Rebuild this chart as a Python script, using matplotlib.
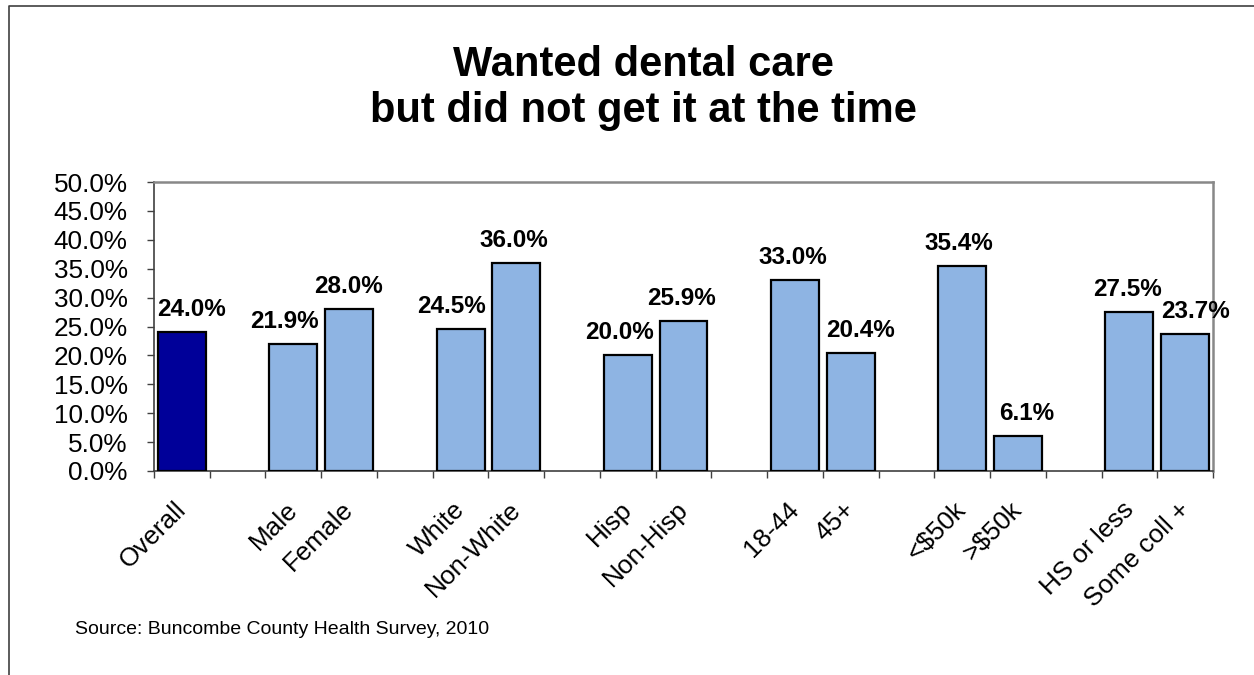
import matplotlib
matplotlib.use("Agg")
import matplotlib.pyplot as plt
from matplotlib.lines import Line2D
from matplotlib.transforms import ScaledTranslation
from matplotlib.ticker import FuncFormatter

plt.rcParams['font.family'] = ['Liberation Sans', 'DejaVu Sans']

# data
categories = ['Overall', 'Male', 'Female', 'White', 'Non-White', 'Hisp', 'Non-Hisp',
              '18-44', '45+', '<$50k', '>$50k', 'HS or less', 'Some coll +']
groups = ['All', 'Sex', 'Sex', 'Race', 'Race', 'Ethnicity', 'Ethnicity',
          'Age', 'Age', 'Income', 'Income', 'Education', 'Education']
values = [24.0, 21.9, 28.0, 24.5, 36.0, 20.0, 25.9, 33.0, 20.4, 35.4, 6.1, 27.5, 23.7]
# horizontal nudge of each value label (pixels), as placed in the original
label_shift = [10, -9, -1, -9, -2, -8, -2, -2, 10, -3, 9, -2, 10]

# one empty slot between groups
positions = []
slot = 0
for i, g in enumerate(groups):
    if i > 0 and g != groups[i - 1]:
        slot += 1
    positions.append(slot)
    slot += 1
n_slots = slot

colors = ['#000099'] + ['#8EB4E3'] * (len(values) - 1)

fig = plt.figure(figsize=(12.54, 6.75), dpi=100)
ax = fig.add_axes([154 / 1254, 1 - 471 / 675, (1213 - 154) / 1254, (471 - 182) / 675])

ax.bar(positions, values, width=0.86, color=colors, edgecolor='black', linewidth=1.6, zorder=3)

for x, v, dx in zip(positions, values, label_shift):
    ax.annotate(f'{v:.1f}%', (x, v), xytext=(dx * 0.72, 11.5), textcoords='offset points',
                ha='center', va='baseline', fontsize=17.5, fontweight='bold')

ax.set_xlim(-0.5, n_slots - 0.5)
ax.set_ylim(0, 50)
ax.set_yticks(range(0, 51, 5))
ax.yaxis.set_major_formatter(FuncFormatter(lambda y, _: f'{y:.1f}%'))
ax.tick_params(axis='y', direction='out', length=5, width=1, pad=14, labelsize=18.8, color='#404040')

# labels at bar centres, tick marks at slot boundaries
ax.set_xticks(positions)
ax.set_xticklabels(categories, rotation=45, ha='right', fontsize=18.8)
ax.tick_params(axis='x', which='major', length=0, pad=19)
ax.set_xticks([p - 0.5 for p in range(n_slots + 1)], minor=True)
ax.tick_params(axis='x', which='minor', direction='out', length=5, width=1, color='#404040')
shift = ScaledTranslation(9 / 100, 0, fig.dpi_scale_trans)
for lab in ax.get_xticklabels():
    lab.set_transform(lab.get_transform() + shift)

for side in ['left', 'bottom']:
    ax.spines[side].set_color('#404040')
    ax.spines[side].set_linewidth(1.2)
for side in ['top', 'right']:
    ax.spines[side].set_color('#888888')
    ax.spines[side].set_linewidth(1.8)

fig.text(643 / 1254, 1 - 88 / 675, 'Wanted dental care\nbut did not get it at the time',
         ha='center', va='center', fontsize=30, fontweight='bold', linespacing=1.22)
fig.text(75 / 1254, 1 - 630 / 675, 'Source: Buncombe County Health Survey, 2010',
         ha='left', va='center', fontsize=14)

# outer chart border (only left and top visible in the original crop)
fig.add_artist(Line2D([9 / 1254, 9 / 1254, 1], [0, 1 - 6 / 675, 1 - 6 / 675],
                      transform=fig.transFigure, color='#404040', linewidth=1.2))

fig.savefig('out.png', dpi=100)
